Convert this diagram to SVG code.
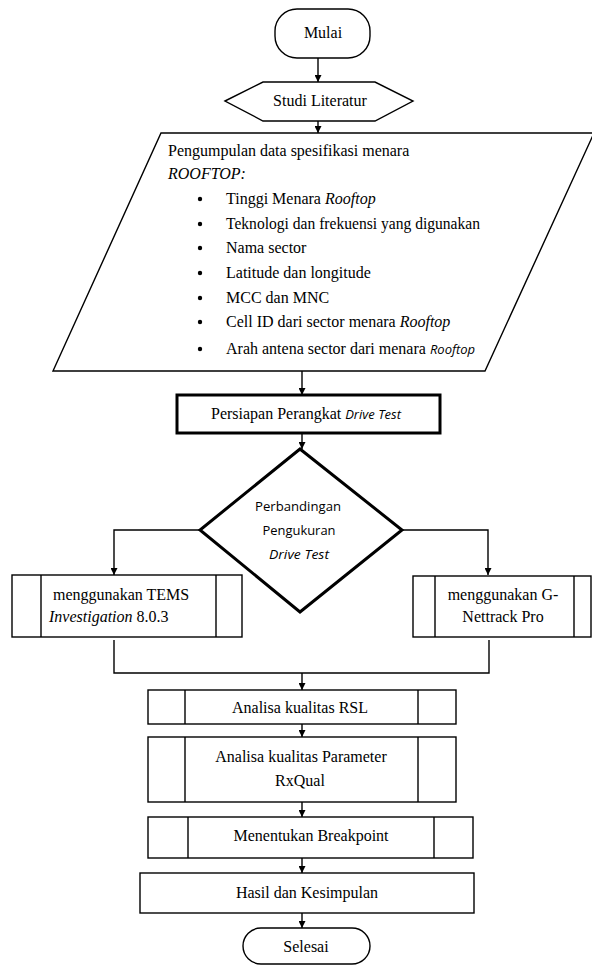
<svg xmlns="http://www.w3.org/2000/svg" width="592" height="967" viewBox="0 0 592 967">
<style>
.s{fill:#fff;stroke:#000;stroke-width:1.4}
.b{fill:#fff;stroke:#000;stroke-width:3}
.l{fill:none;stroke:#000;stroke-width:1.4}
.t{font-family:"Liberation Serif","Times New Roman",serif;font-size:16px;fill:#000}
.m{text-anchor:middle}
.i{font-style:italic}
.ss{font-family:"Open Sans","Liberation Sans",sans-serif;font-size:13px}
</style>
<defs>
<marker id="ah" viewBox="0 0 10 10" refX="10" refY="5" markerWidth="7" markerHeight="7" markerUnits="userSpaceOnUse" orient="auto">
<path d="M0,0 L10,5 L0,10 Z" fill="#000"/>
</marker>
</defs>
<g id="connectors">
<path class="l" d="M318,58 V82" marker-end="url(#ah)"/>
<path class="l" d="M318,121 V133" marker-end="url(#ah)"/>
<path class="l" d="M302,371 V395" marker-end="url(#ah)"/>
<path class="l" d="M302,433 V449" marker-end="url(#ah)"/>
<path class="l" d="M200,530 H114 V575" marker-end="url(#ah)"/>
<path class="l" d="M402,530 H488 V575" marker-end="url(#ah)"/>
<path class="l" d="M114,640 V673 H489 V640"/>
<path class="l" d="M302,673 V690" marker-end="url(#ah)"/>
<path class="l" d="M302,724 V737" marker-end="url(#ah)"/>
<path class="l" d="M302,802 V817" marker-end="url(#ah)"/>
<path class="l" d="M302,858 V873" marker-end="url(#ah)"/>
<path class="l" d="M302,913 V928" marker-end="url(#ah)"/>
</g>
<g id="mulai">
<rect class="s" x="275" y="9" width="95" height="49" rx="22" ry="22"/>
<text class="t m" x="323" y="38">Mulai</text>
</g>
<g id="studi">
<polygon class="s" points="225,101 263,82 375,82 413,101 375,121 263,121"/>
<text class="t m" x="320" y="106">Studi Literatur</text>
</g>
<g id="pengumpulan">
<polygon class="s" points="161,133 594,133 485,371 53,371"/>
<text class="t" x="168" y="156">Pengumpulan data spesifikasi menara</text>
<text class="t i" x="168" y="179">ROOFTOP:</text>
<g class="t">
<circle cx="200" cy="199" r="2.2"/>
<circle cx="200" cy="224" r="2.2"/>
<circle cx="200" cy="248" r="2.2"/>
<circle cx="200" cy="273" r="2.2"/>
<circle cx="200" cy="298" r="2.2"/>
<circle cx="200" cy="322" r="2.2"/>
<circle cx="200" cy="349" r="2.2"/>
</g>
<text class="t" x="226" y="204">Tinggi Menara <tspan class="i">Rooftop</tspan></text>
<text class="t" x="226" y="229" textLength="254" lengthAdjust="spacingAndGlyphs">Teknologi dan frekuensi yang digunakan</text>
<text class="t" x="226" y="253">Nama sector</text>
<text class="t" x="226" y="278">Latitude dan longitude</text>
<text class="t" x="226" y="303">MCC dan MNC</text>
<text class="t" x="226" y="327">Cell ID dari sector menara <tspan class="i">Rooftop</tspan></text>
<text class="t" x="226" y="354">Arah antena sector dari menara <tspan class="i ss">Rooftop</tspan></text>
</g>
<g id="persiapan">
<rect class="b" x="177" y="395" width="263" height="38"/>
<text class="t m" x="306" y="419">Persiapan Perangkat <tspan class="i ss" font-size="14">Drive Test</tspan></text>
</g>
<g id="perbandingan">
<polygon class="b" points="300,449 402,530 300,612 200,530"/>
<text class="t m ss" x="298" y="511" textLength="86" lengthAdjust="spacingAndGlyphs">Perbandingan</text>
<text class="t m ss" x="299" y="535" textLength="73" lengthAdjust="spacingAndGlyphs">Pengukuran</text>
<text class="t m ss i" x="299" y="559" textLength="60" lengthAdjust="spacingAndGlyphs">Drive Test</text>
</g>
<g id="tems">
<rect class="s" x="12" y="575" width="230" height="62"/>
<path class="l" d="M41,575 V637 M216,575 V637"/>
<text class="t" x="53" y="600">menggunakan TEMS</text>
<text class="t" x="49" y="622"><tspan class="i">Investigation</tspan> 8.0.3</text>
</g>
<g id="gnettrack">
<rect class="s" x="413" y="576" width="178" height="61"/>
<path class="l" d="M435,576 V637 M574,576 V637"/>
<text class="t m" x="503" y="600">menggunakan G-</text>
<text class="t m" x="503" y="622">Nettrack Pro</text>
</g>
<g id="rsl">
<rect class="s" x="148" y="690" width="308" height="34"/>
<path class="l" d="M185,690 V724 M418,690 V724"/>
<text class="t m" x="300" y="713">Analisa kualitas RSL</text>
</g>
<g id="rxqual">
<rect class="s" x="148" y="737" width="308" height="65"/>
<path class="l" d="M185,737 V802 M418,737 V802"/>
<text class="t m" x="301" y="762">Analisa kualitas Parameter</text>
<text class="t m" x="300" y="786">RxQual</text>
</g>
<g id="breakpoint">
<rect class="s" x="148" y="817" width="325" height="41"/>
<path class="l" d="M188,817 V858 M434,817 V858"/>
<text class="t m" x="311" y="841">Menentukan Breakpoint</text>
</g>
<g id="hasil">
<rect class="s" x="140" y="873" width="334" height="40"/>
<text class="t m" x="307" y="898">Hasil dan Kesimpulan</text>
</g>
<g id="selesai">
<rect class="s" x="243" y="928" width="127" height="36" rx="18" ry="18"/>
<text class="t m" x="306" y="952">Selesai</text>
</g>
</svg>
